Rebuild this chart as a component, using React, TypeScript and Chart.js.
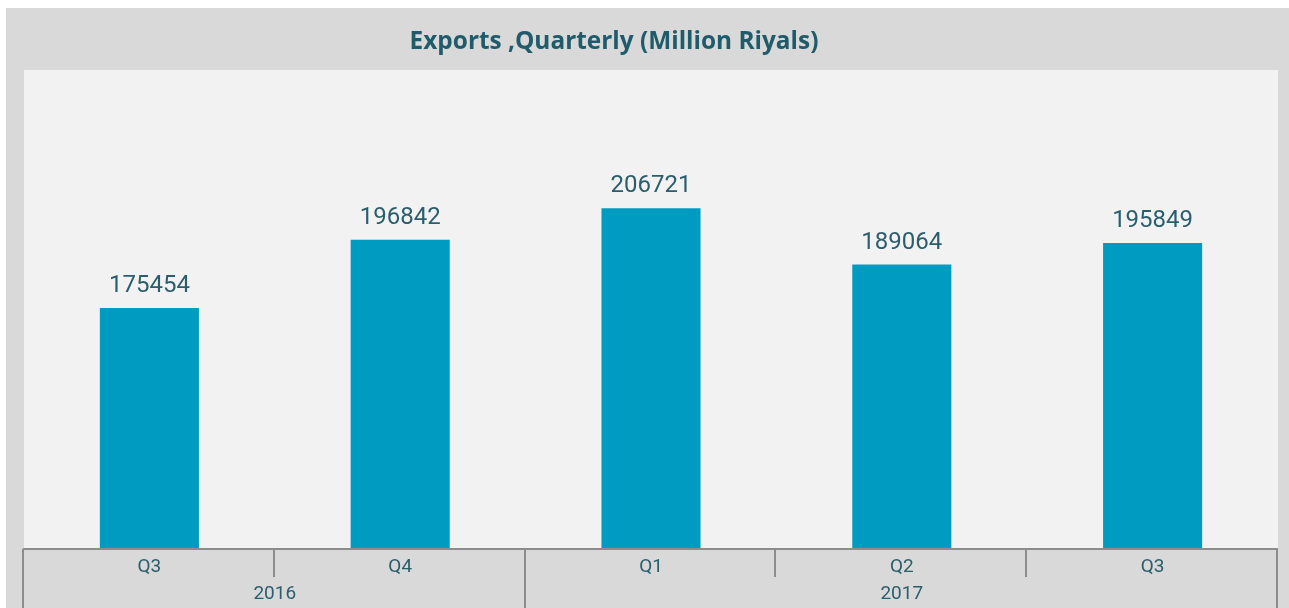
import React, { useEffect, useRef } from "react";
import { Chart, registerables } from "chart.js";

Chart.register(...registerables);

const titleText = "Exports ,Quarterly (Million Riyals)";
const quarters = ["Q3", "Q4", "Q1", "Q2", "Q3"];
const exportsValues = [175454, 196842, 206721, 189064, 195849];
const years = ["2016", "2017"];
const yearSpans = [2, 3];
const yMin = 100000;
const yMax = 250000;

const W = 1289;
const H = 608;

export default function App() {
  const ref = useRef<HTMLCanvasElement | null>(null);

  useEffect(() => {
    document.body.style.margin = "0";
    const canvas = ref.current;
    if (!canvas) return;

    const decor = {
      id: "decor",
      beforeDraw(chart: any) {
        const { ctx, chartArea } = chart;
        ctx.save();
        ctx.fillStyle = "#ffffff";
        ctx.fillRect(0, 0, W, H);
        ctx.fillStyle = "#d9d9d9";
        ctx.fillRect(6, 8, W - 6, H - 8);
        ctx.fillStyle = "#f2f2f2";
        ctx.fillRect(chartArea.left, chartArea.top, chartArea.right - chartArea.left, chartArea.bottom - chartArea.top);
        // title
        ctx.fillStyle = "#1f5b6a";
        ctx.font = "bold 24.4px 'Open Sans'";
        ctx.textAlign = "center";
        ctx.textBaseline = "middle";
        ctx.fillText(titleText, 614, 42.5);
        ctx.restore();
      },
      afterDatasetsDraw(chart: any) {
        const { ctx, chartArea } = chart;
        const meta = chart.getDatasetMeta(0);
        const xs = chart.scales.x;
        ctx.save();
        // value labels
        ctx.fillStyle = "#2b5e6d";
        ctx.font = "24px Roboto";
        ctx.textAlign = "center";
        ctx.textBaseline = "alphabetic";
        meta.data.forEach((bar: any, i: number) => {
          ctx.fillText(String(exportsValues[i]), bar.x, bar.y - 16);
        });
        // axis
        const y0 = chartArea.bottom;
        ctx.strokeStyle = "#8c8c8c";
        ctx.lineWidth = 2;
        ctx.beginPath();
        ctx.moveTo(chartArea.left - 1, y0);
        ctx.lineTo(chartArea.right, y0);
        ctx.stroke();
        const n = quarters.length;
        const step = (chartArea.right - chartArea.left) / n;
        const boundary = (k: number) => xs.getPixelForValue(k) - step / 2;
        // quarter labels
        ctx.font = "19px Roboto";
        ctx.textBaseline = "middle";
        quarters.forEach((q, i) => {
          ctx.fillText(q, xs.getPixelForValue(i), y0 + 18);
        });
        // separators
        const groupStarts = new Set<number>();
        let acc = 0;
        groupStarts.add(0);
        yearSpans.forEach((s) => {
          acc += s;
          groupStarts.add(acc);
        });
        for (let k = 0; k <= n; k++) {
          const x = Math.round(boundary(k)) - 1;
          const long = groupStarts.has(k);
          ctx.beginPath();
          ctx.moveTo(x, y0);
          ctx.lineTo(x, long ? H : y0 + 28);
          ctx.stroke();
        }
        // year labels
        ctx.font = "19px Roboto";
        let start = 0;
        years.forEach((yr, gi) => {
          const end = start + yearSpans[gi];
          const cx = (boundary(start) + boundary(end)) / 2;
          ctx.fillText(yr, cx, y0 + 45);
          start = end;
        });
        ctx.restore();
      },
    };

    const chart = new Chart(canvas, {
      type: "bar",
      data: {
        labels: quarters,
        datasets: [
          {
            data: exportsValues,
            backgroundColor: "#009bc0",
            borderWidth: 0,
            barPercentage: 0.395,
            categoryPercentage: 1,
          },
        ],
      },
      options: {
        responsive: false,
        animation: false,
        layout: { padding: { left: 24, right: 11, top: 70, bottom: 59 } },
        plugins: { legend: { display: false }, tooltip: { enabled: false }, title: { display: false } },
        scales: {
          x: { display: false },
          y: { display: false, min: yMin, max: yMax },
        },
      },
      plugins: [decor],
    });
    return () => chart.destroy();
  }, []);

  return (
    <div style={{ width: W, height: H }}>
      <canvas ref={ref} width={W} height={H} style={{ display: "block", width: W, height: H }} />
    </div>
  );
}
